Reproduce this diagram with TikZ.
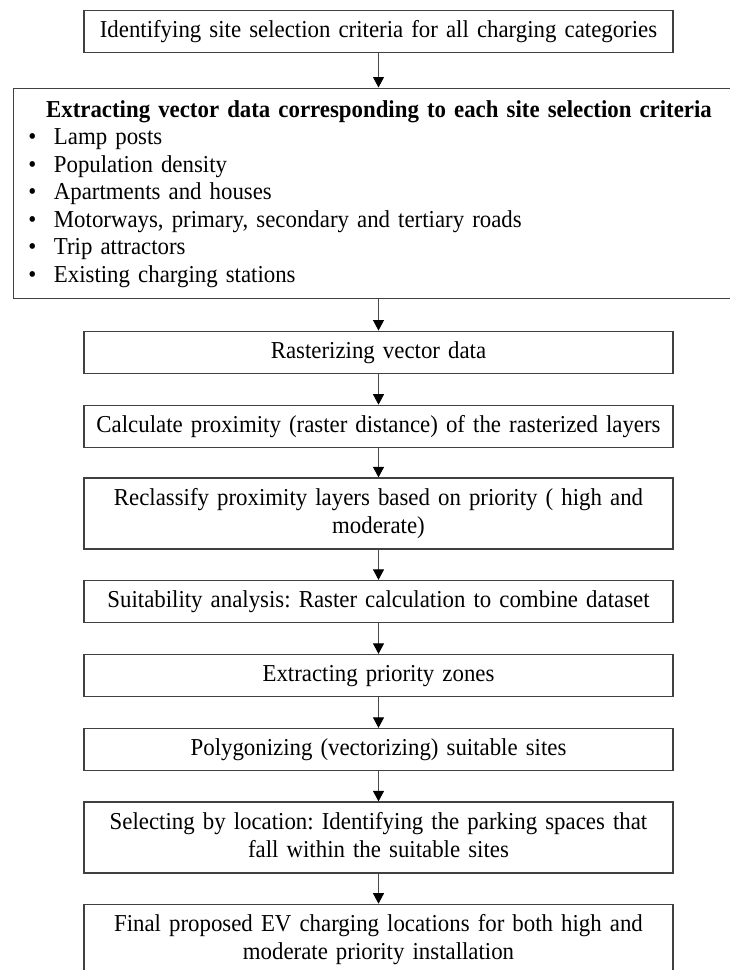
\documentclass[tikz,border=0pt]{standalone}
\usepackage{fontspec}
\setmainfont{Liberation Serif}[FakeStretch=0.94]
\usetikzlibrary{arrows.meta}
\definecolor{linegray}{HTML}{404040}
\definecolor{arrowgray}{HTML}{4A4A4A}
\newcommand{\bxstrut}{\rule[-5pt]{0pt}{22pt}}
\newcommand{\bul}{\hspace*{19pt}\makebox[0pt]{\textbullet}\hspace*{21.6pt}}
\frenchspacing
\tikzset{
  stepbox/.style={draw=linegray, line width=1.3pt, inner sep=0pt,
    minimum width=589pt, text width=589pt, align=center,
    minimum height=42pt,
    font=\fontsize{24.3}{28.3}\selectfont\frenchspacing,
    execute at begin node=\bxstrut, execute at end node=\bxstrut},
  twoline/.style={minimum height=71pt},
  listbox/.style={draw=linegray, line width=1.3pt, inner sep=0pt,
    text width=731.3pt, align=left,
    font=\fontsize{24.3}{27.5}\selectfont\frenchspacing},
  flow/.style={draw=arrowgray, line width=1pt,
    -{Triangle[width=11pt,length=10.5pt,color=black]}}
}
\begin{document}
\begin{tikzpicture}[x=1pt,y=-1pt]
\clip (0,0) rectangle (730,970);
\fill[white] (0,0) rectangle (730,970);

\node[stepbox] (b1) at (378.5,31.5) {Identifying site selection criteria for all charging categories};

\node[listbox, anchor=north west] (b2) at (12.7,87.5) {\rule{0pt}{29.2pt}\makebox[\linewidth]{\bfseries Extracting vector data corresponding to each site selection criteria}\\
\bul Lamp posts\\
\bul Population density\\
\bul Apartments and houses\\
\bul Motorways, primary, secondary and tertiary roads\\
\bul Trip attractors\\
\bul Existing charging stations\rule[-16.3pt]{0pt}{0pt}};

\node[stepbox] (b3) at (378.5,352.2) {Rasterizing vector data};
\node[stepbox] (b4) at (378.5,426.3) {Calculate proximity (raster distance) of the rasterized layers};
\node[stepbox, twoline] (b5) at (378.5,513.5) {Reclassify proximity layers based on priority ( high and\\moderate)};
\node[stepbox] (b6) at (378.5,601.5) {Suitability analysis: Raster calculation to combine dataset};
\node[stepbox] (b7) at (378.5,675.5) {Extracting priority zones};
\node[stepbox] (b8) at (378.5,749.5) {Polygonizing (vectorizing) suitable sites};
\node[stepbox, twoline] (b9) at (378.5,837.5) {Selecting by location: Identifying the parking spaces that\\fall within the suitable sites};
\node[stepbox, twoline] (b10) at (378.5,939.8) {Final proposed EV charging locations for both high and\\moderate priority installation};

\draw[flow] (b1.south) -- (b1.south |- b2.north);
\draw[flow] (b1.south |- b2.south) -- (b3.north);
\draw[flow] (b3) -- (b4);
\draw[flow] (b4) -- (b5);
\draw[flow] (b5) -- (b6);
\draw[flow] (b6) -- (b7);
\draw[flow] (b7) -- (b8);
\draw[flow] (b8) -- (b9);
\draw[flow] (b9) -- (b10);
\end{tikzpicture}
\end{document}
